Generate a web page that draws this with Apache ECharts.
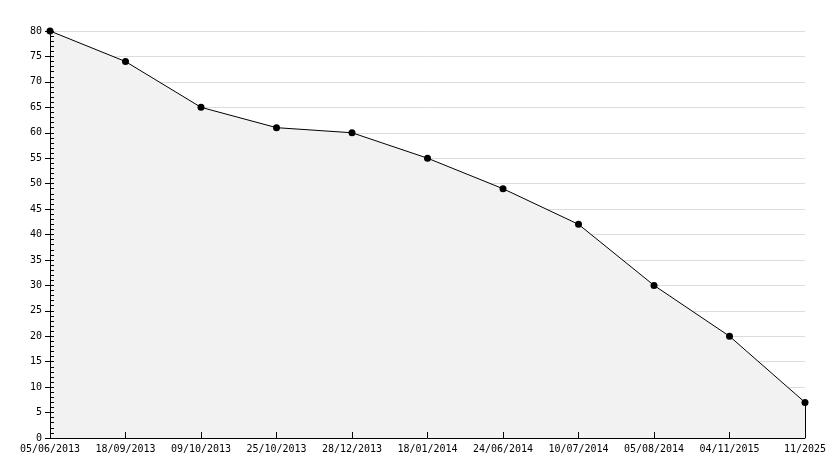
<!DOCTYPE html>
<html>
<head>
<meta charset="utf-8">
<script src="https://cdn.jsdelivr.net/npm/echarts@6/dist/echarts.min.js"></script>
<style>
  html, body { margin: 0; padding: 0; background: #fff; }
  #chart { width: 834px; height: 468px; }
</style>
</head>
<body>
<div id="chart"></div>
<script>
var dates = ['05/06/2013', '18/09/2013', '09/10/2013', '25/10/2013', '28/12/2013', '18/01/2014',
  '24/06/2014', '10/07/2014', '05/08/2014', '04/11/2015', '11/2025']
var values = [80, 74, 65, 61, 60, 55, 49, 42, 30, 20, 7]
var yMin = 0
var yMax = 80
var yStep = 5

var font = 'DejaVu Sans Mono'
var myChart = echarts.init(document.getElementById('chart'))
var last = dates.length - 1

var option = {
  animation: false,
  grid: { left: 50, right: 29, top: 31, bottom: 30 },
  xAxis: {
    type: 'category',
    boundaryGap: false,
    data: dates,
    z: 5,
    axisLine: { lineStyle: { color: '#000', width: 1 } },
    axisTick: { show: true, inside: true, length: 6, lineStyle: { color: '#000' } },
    axisLabel: { color: '#000', fontFamily: font, fontSize: 10, margin: 6, interval: 0 },
    splitLine: { show: false }
  },
  yAxis: [
    {
      type: 'value',
      min: yMin,
      max: yMax,
      interval: yStep,
      axisLine: { show: true, lineStyle: { color: '#000', width: 1 } },
      axisTick: { show: true, length: 5, lineStyle: { color: '#000' } },
      axisLabel: { color: '#000', fontFamily: font, fontSize: 10, margin: 8 },
      splitLine: { show: true, lineStyle: { color: '#dcdcdc', width: 1 } }
    },
    {
      // second axis on the same spot, only for the small inner ticks
      type: 'value',
      position: 'left',
      z: 5,
      min: yMin,
      max: yMax,
      interval: yStep,
      axisLine: { show: true, lineStyle: { color: '#000', width: 1 } },
      axisTick: { show: true, inside: true, length: 4, lineStyle: { color: '#000' } },
      minorTick: { show: true, splitNumber: 5, length: 4, lineStyle: { color: '#000' } },
      axisLabel: { show: false },
      splitLine: { show: false }
    }
  ],
  series: [
    {
      type: 'line',
      data: values,
      yAxisIndex: 0,
      symbol: 'circle',
      symbolSize: 7,
      itemStyle: { color: '#000' },
      lineStyle: { color: '#000', width: 1 },
      areaStyle: { color: '#f2f2f2', opacity: 1 },
      markLine: {
        silent: true,
        symbol: 'none',
        label: { show: false },
        lineStyle: { color: '#000', width: 1, type: 'solid' },
        data: [
          [{ coord: [dates[last], yMin] }, { coord: [dates[last], values[last]] }]
        ]
      }
    }
  ]
}
myChart.setOption(option)
</script>
</body>
</html>
